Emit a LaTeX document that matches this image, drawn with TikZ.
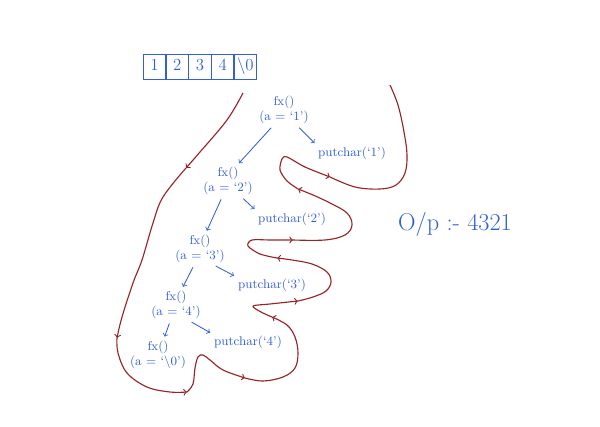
\documentclass[tikz,border=0pt]{standalone}
\usepackage{tikz}
\usetikzlibrary{matrix,arrows}

\definecolor{inkblue}{RGB}{50,95,215}
\definecolor{inkred}{RGB}{150,35,40}

\tikzset{
	call/.style={->, inkblue, semithick, shorten <=2pt, shorten >=2pt},
	trace/.style={->, inkred, thick, line join=round},
	fnode/.style={inkblue, font=\small, align=center, inner sep=1pt},
}

\begin{document}
\begin{tikzpicture}[x=0.025cm, y=-0.025cm]
	\useasboundingbox (0,0) rectangle (600,427);
	\matrix (arr) [matrix of nodes, column sep=-\pgflinewidth,
		nodes={draw, inkblue, semithick, minimum width=0.56cm, minimum height=0.62cm, text height=1.6ex, text depth=0.3ex, inner sep=0pt, font=\large}] at (200,67)
	{
		1 & 2 & 3 & 4 & \textbackslash 0 \\
	};
	\node[fnode] (fx1) at (284,110) {fx()\\(a = `1')};
	\node[fnode] (fx2) at (228,181) {fx()\\(a = `2')};
	\node[fnode] (fx3) at (200,249) {fx()\\(a = `3')};
	\node[fnode] (fx4) at (176,305) {fx()\\(a = `4')};
	\node[fnode] (fx5) at (158,355) {fx()\\(a = `\textbackslash 0')};
	\node[fnode] (pc1) at (352,153) {putchar(`1')};
	\node[fnode] (pc2) at (292,219) {putchar(`2')};
	\node[fnode] (pc3) at (272,285) {putchar(`3')};
	\node[fnode] (pc4) at (248,342) {putchar(`4')};
	\node[inkblue, font=\LARGE] (out) at (455,224) {O/p :- 4321};
	\path[call]
	(fx1.-125) edge (fx2.60)
	(fx1.-50) edge (pc1.north west)
	(fx2.-110) edge (fx3.70)
	(fx2.-50) edge (pc2.north west)
	(fx3.-110) edge (fx4.70)
	(fx3.-50) edge (pc3.north west)
	(fx4.-110) edge (fx5.70)
	(fx4.-50) edge (pc4.north west)
	;
	\draw[trace] plot[smooth, tension=0.6] coordinates {(243,93) (227,120) (200,152) (186,168)};
	\draw[trace] plot[smooth, tension=0.6] coordinates {(186,168) (163,197) (153,223) (142,260) (133,283) (122,317) (117,338)};
	\draw[trace] plot[smooth, tension=0.6] coordinates {(117,338) (118,353) (127,373) (147,387) (170,392) (187,392)};
	\draw[trace] plot[smooth, tension=0.6] coordinates {(187,392) (193,384) (195,368) (198,357) (203,355) (210,360) (223,370) (245,378)};
	\draw[trace] plot[smooth, tension=0.6] coordinates {(245,378) (263,381) (283,377) (295,368) (298,353) (295,337) (287,325) (272,317)};
	\draw[trace] plot[smooth, tension=0.5] coordinates {(272,317) (261,312) (253,306) (270,304) (298,301)};
	\draw[trace] plot[smooth, tension=0.6] coordinates {(298,301) (313,297) (326,291) (331,282) (327,272) (312,264) (292,260) (277,258)};
	\draw[trace] plot[smooth, tension=0.5] coordinates {(277,258) (260,254) (248,246) (252,240) (270,240) (293,240)};
	\draw[trace] plot[smooth, tension=0.6] coordinates {(293,240) (325,240) (345,235) (352,225) (347,213) (330,203) (313,195) (298,189)};
	\draw[trace] plot[smooth, tension=0.5] coordinates {(298,189) (287,181) (280,170) (282,159) (287,157) (305,167) (330,177)};
	\draw[inkred, thick] plot[smooth, tension=0.6] coordinates {(330,177) (355,187) (380,189) (396,185) (405,173) (407,155) (404,132) (398,105) (390,85)};
\end{tikzpicture}
\end{document}
